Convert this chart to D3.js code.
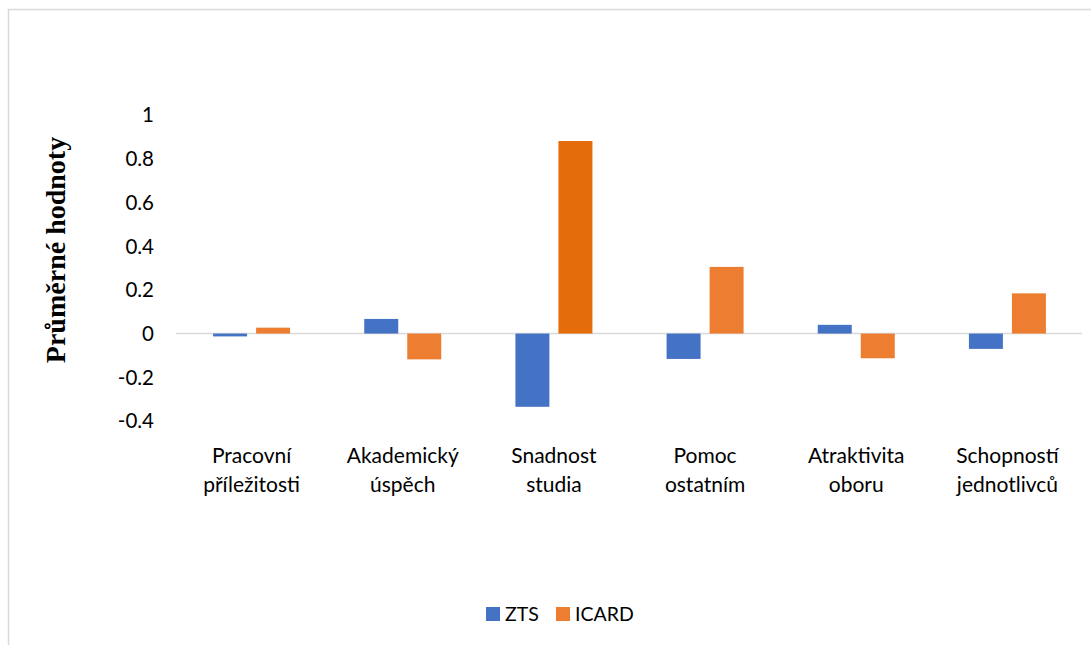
<!DOCTYPE html>
<html>
<head>
<meta charset="utf-8">
<script src="https://cdn.jsdelivr.net/npm/d3@7/dist/d3.min.js"></script>
<style>
  body { margin: 0; background: #fff; }
  text { font-family: Lato, "Liberation Sans", sans-serif; fill: #000; }
</style>
</head>
<body>
<div id="chart"></div>
<script>
// values
var categories = [
	['Pracovní', 'příležitosti'],
	['Akademický', 'úspěch'],
	['Snadnost', 'studia'],
	['Pomoc', 'ostatním'],
	['Atraktivita', 'oboru'],
	['Schopností', 'jednotlivců']
];
var zts   = [-0.013, 0.067, -0.335, -0.116, 0.04, -0.07];
var icard = [0.027, -0.118, 0.881, 0.305, -0.113, 0.184];
var seriesNames = ['ZTS', 'ICARD'];
var yTicks = [1, 0.8, 0.6, 0.4, 0.2, 0, -0.2, -0.4];

var colors = { ZTS: '#4472C4', ICARD: '#ED7D31' };
var highlight = { index: 2, color: '#E46C0A' };	// darker orange bar

var width = 1091, height = 645;
var svg = d3.select('#chart').append('svg')
		.attr('width', width)
		.attr('height', height);

// chart border (right / bottom sit outside the frame)
svg.append('rect')
	.attr('x', 8.5).attr('y', 9.5)
	.attr('width', width + 20).attr('height', height + 20)
	.attr('fill', 'none')
	.attr('stroke', '#d9d9d9')
	.attr('stroke-width', 1.5);

var x0 = d3.scaleBand()
	.domain(d3.range(categories.length))
	.range([176, 1083]);

var x1 = d3.scaleBand()
	.domain(seriesNames)
	.range([0, 77])
	.paddingInner(0.21);

var y = d3.scaleLinear()
	.domain([-0.4, 1])
	.range([421, 115]);

// y tick labels only
svg.append('g').selectAll('text')
	.data(yTicks)
	.enter().append('text')
		.attr('x', 154)
		.attr('y', function(d) { return y(d); })
		.attr('dy', '0.36em')
		.attr('text-anchor', 'end')
		.style('font-size', '20.5px')
		.text(function(d) { return String(d); });

// y title
svg.append('text')
	.attr('transform', 'translate(65,250) rotate(-90)')
	.attr('text-anchor', 'middle')
	.style('font-family', '"Liberation Serif", "DejaVu Serif", serif')
	.style('font-weight', 'bold')
	.style('font-size', '28px')
	.text('Průměrné hodnoty');

// zero line
svg.append('line')
	.attr('x1', x0.range()[0]).attr('x2', x0.range()[1] - 1)
	.attr('y1', y(0)).attr('y2', y(0))
	.attr('stroke', '#d9d9d9')
	.attr('stroke-width', 1.5);

// bars
var groups = svg.append('g').selectAll('g')
	.data(categories)
	.enter().append('g')
		.attr('transform', function(d, i) {
			return 'translate(' + (x0(i) + x0.bandwidth() / 2 - 38.5) + ',0)';
		});

groups.selectAll('rect')
	.data(function(d, i) {
		return [
			{ s: 'ZTS', v: zts[i], i: i },
			{ s: 'ICARD', v: icard[i], i: i }
		];
	})
	.enter().append('rect')
		.attr('x', function(d) { return x1(d.s); })
		.attr('width', x1.bandwidth())
		.attr('y', function(d) { return Math.min(y(d.v), y(0)); })
		.attr('height', function(d) { return Math.abs(y(d.v) - y(0)); })
		.attr('fill', function(d) {
			if (d.s === 'ICARD' && d.i === highlight.index) return highlight.color;
			return colors[d.s];
		});

// category labels
var labels = svg.append('g').selectAll('text')
	.data(categories)
	.enter().append('text')
		.attr('text-anchor', 'middle')
		.attr('x', function(d, i) { return x0(i) + x0.bandwidth() / 2; })
		.attr('y', 463)
		.style('font-size', '21px');

labels.selectAll('tspan')
	.data(function(d) { return d; })
	.enter().append('tspan')
		.attr('x', function() { return d3.select(this.parentNode).attr('x'); })
		.attr('dy', function(d, i) { return i === 0 ? 0 : 29; })
		.text(function(d) { return d; });

// legend
var legend = svg.append('g');
var legendX = [486, 556];
seriesNames.forEach(function(s, i) {
	legend.append('rect')
		.attr('x', legendX[i]).attr('y', 607)
		.attr('width', 14).attr('height', 14)
		.attr('fill', colors[s]);
	legend.append('text')
		.attr('x', legendX[i] + 19).attr('y', 621)
		.style('font-size', '19.5px')
		.text(s);
});
</script>
</body>
</html>
